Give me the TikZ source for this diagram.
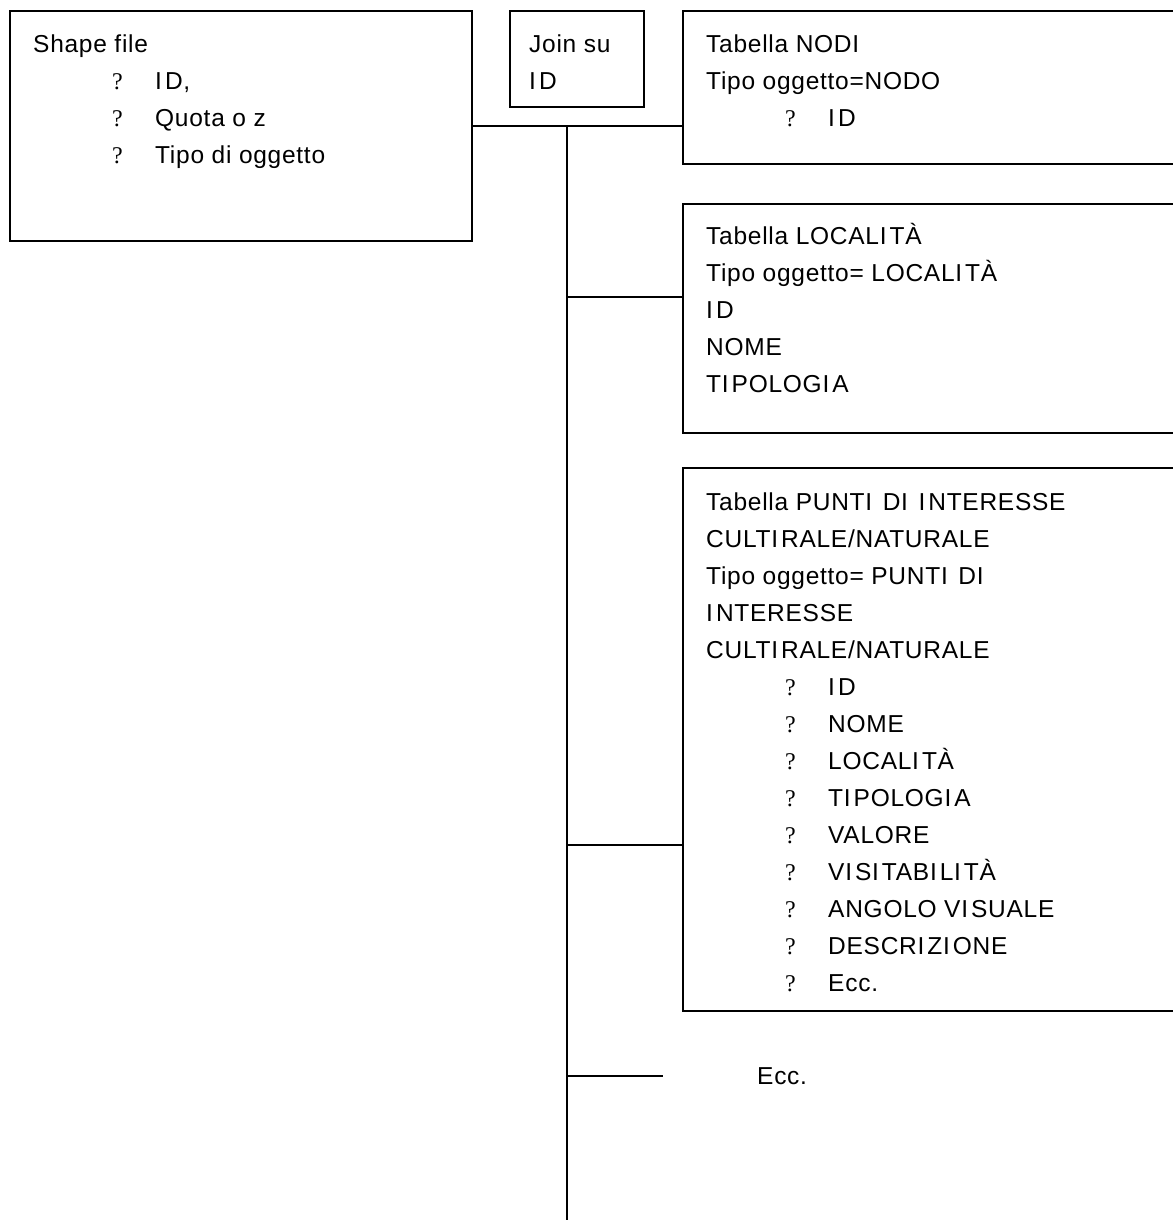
\documentclass[tikz,border=0pt]{standalone}
\usepackage{fontspec}
\setmainfont{Liberation Sans}[LetterSpace=3]
\newfontfamily\qfont{Liberation Serif}
\newcommand\fl{\rule{0pt}{24pt}}
\newcommand\Iw{I\kern3pt}
\newcommand\blt[1]{\hspace*{79pt}\makebox[43pt][l]{\qfont\fontsize{24pt}{24pt}\selectfont ?}#1}
\tikzset{
  box/.style={draw, line width=1.6pt, rectangle, inner sep=0pt, anchor=north west},
  txt/.style={anchor=north west, inner sep=0pt, align=left, font=\fontsize{24.5pt}{37pt}\selectfont},
  wire/.style={line width=1.6pt}
}
\begin{document}
\begin{tikzpicture}[x=1pt,y=-1pt]
\useasboundingbox (0,0) rectangle (1172,1220);
% boxes
\node[box, minimum width=462pt, minimum height=230pt] (shp) at (9,10) {};
\node[box, minimum width=134pt, minimum height=96pt] (join) at (509,10) {};
\node[box, minimum width=540pt, minimum height=153pt] (nodi) at (682,10) {};
\node[box, minimum width=540pt, minimum height=229pt] (loc) at (682,203) {};
\node[box, minimum width=540pt, minimum height=543pt] (punti) at (682,467) {};
% texts
\node[txt] (tshp) at (33,28) {\fl Shape file\\
\blt{\Iw D,}\\
\blt{Quota o z}\\
\blt{Tipo di oggetto}};
\node[txt] (tjoin) at (529,28) {\fl Join su\\\Iw D};
\node[txt] (tnodi) at (706,28) {\fl Tabella NOD\Iw\\
Tipo oggetto=NODO\\
\blt{\Iw D}};
\node[txt] (tloc) at (706,220) {\fl Tabella LOCAL\Iw TÀ\\
Tipo oggetto= LOCAL\Iw TÀ\\
\Iw D\\
NOME\\
T\Iw POLOG\Iw A};
\node[txt] (tpunti) at (706,486) {\fl Tabella PUNT\Iw{} D\Iw{} \Iw NTERESSE\\
CULT\Iw RALE/NATURALE\\
Tipo oggetto= PUNT\Iw{} D\Iw\\
\Iw NTERESSE\\
CULT\Iw RALE/NATURALE\\
\blt{\Iw D}\\
\blt{NOME}\\
\blt{LOCAL\Iw TÀ}\\
\blt{T\Iw POLOG\Iw A}\\
\blt{VALORE}\\
\blt{V\Iw S\Iw TAB\Iw L\Iw TÀ}\\
\blt{ANGOLO V\Iw SUALE}\\
\blt{DESCR\Iw Z\Iw ONE}\\
\blt{Ecc.}};
\node[txt, anchor=west] (tecc) at (757,1076) {Ecc.};
% connectors
\coordinate (top) at (567,126);
\coordinate (bot) at (567,1222);
\coordinate (eccend) at (663,1076);
\draw[wire] (shp.east |- top) -- (nodi.west |- top);
\draw[wire] (top) -- (bot);
\draw[wire] (567,297) coordinate (j2) -- (loc.west |- j2);
\draw[wire] (567,845) coordinate (j3) -- (punti.west |- j3);
\draw[wire] (567,1076) coordinate (j4) -- (eccend);
\end{tikzpicture}
\end{document}
